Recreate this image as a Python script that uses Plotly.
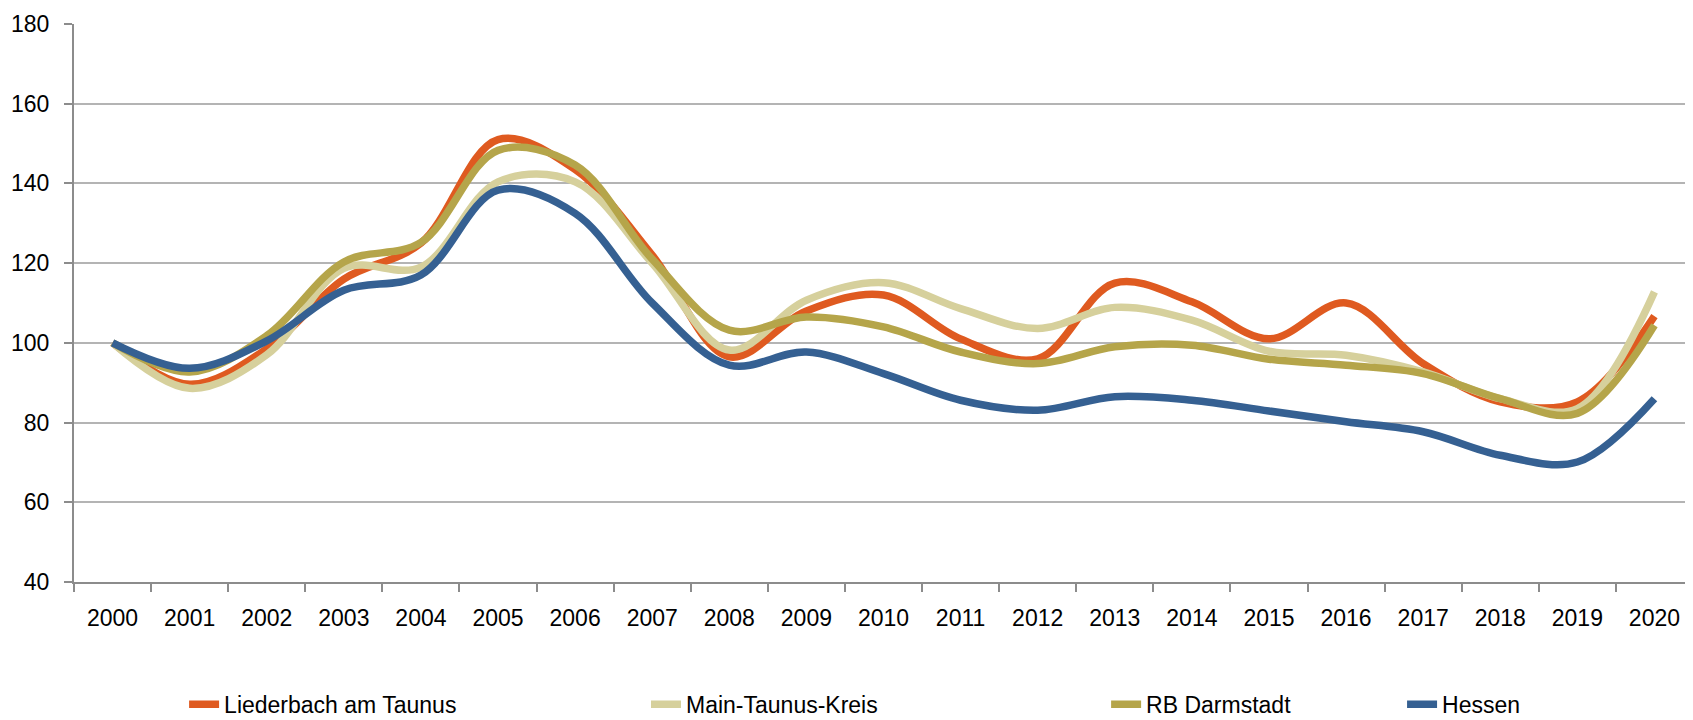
import plotly.graph_objects as go

years = [str(y) for y in range(2000, 2021)]
liederbach = [100, 89.6, 98.5, 116, 125, 151, 143.5, 122, 96.5, 108, 112, 101, 96, 115, 110.3, 101, 110, 94.8, 85.2, 85.2, 106.7]
main_taunus = [100, 88.6, 97, 118.7, 119, 140.4, 140.4, 120, 98.2, 110.7, 115.1, 108.6, 103.6, 108.9, 105.7, 97.9, 96.9, 92.7, 86, 83.5, 112.8]
rb_darmstadt = [100, 92.7, 101.8, 120.3, 125.2, 148.3, 144.6, 121, 103.2, 106.5, 104, 97.7, 94.8, 99, 99.4, 95.9, 94.4, 92.3, 86, 82.3, 104.4]
hessen = [100, 93.6, 100.5, 113.2, 117, 138.3, 132.5, 110, 94.4, 97.7, 92.3, 85.6, 83.1, 86.5, 85.6, 82.9, 80.2, 77.7, 71.8, 70.1, 86]

series = [
    ("Liederbach am Taunus", liederbach, "#DF5A20", "legend"),
    ("Main-Taunus-Kreis", main_taunus, "#D6D09C", "legend2"),
    ("RB Darmstadt", rb_darmstadt, "#B5A54A", "legend3"),
    ("Hessen", hessen, "#356092", "legend4"),
]

fig = go.Figure()
for name, vals, color, leg in series:
    fig.add_trace(go.Scatter(
        x=years, y=vals, name=name, mode="lines",
        line=dict(color=color, width=7.5, shape="spline", smoothing=1.0),
        legend=leg,
    ))

font = dict(family="Liberation Sans, Arial, sans-serif", size=23, color="#000000")
leg_common = dict(orientation="h", yref="container", yanchor="middle", y=0.022,
                  xanchor="left", font=font, bgcolor="rgba(0,0,0,0)")

fig.update_layout(
    width=1685, height=712,
    margin=dict(l=66, r=0, t=16, b=138),
    plot_bgcolor="white", paper_bgcolor="white",
    font=font,
    showlegend=True,
    legend=dict(x=0.068, **leg_common),
    legend2=dict(x=0.3533, **leg_common),
    legend3=dict(x=0.6375, **leg_common),
    legend4=dict(x=0.8203, **leg_common),
    xaxis=dict(
        type="category", range=[-0.5, 20.5], automargin=False,
        showgrid=False, showline=True, linecolor="#8C8C8C", linewidth=2,
        ticks="outside", ticklen=8, tickwidth=2, tickcolor="#8C8C8C",
        tickson="boundaries", ticklabelstandoff=14,
        tickfont=font, zeroline=False,
    ),
    yaxis=dict(
        range=[40, 180], dtick=20, tick0=40, automargin=False,
        showgrid=True, gridcolor="#B4B4B4", gridwidth=1.5,
        showline=True, linecolor="#8C8C8C", linewidth=2,
        ticks="outside", ticklen=8, tickwidth=2, tickcolor="#8C8C8C",
        ticklabelstandoff=10, tickfont=font, zeroline=False,
    ),
)

fig.write_html("out.html")
